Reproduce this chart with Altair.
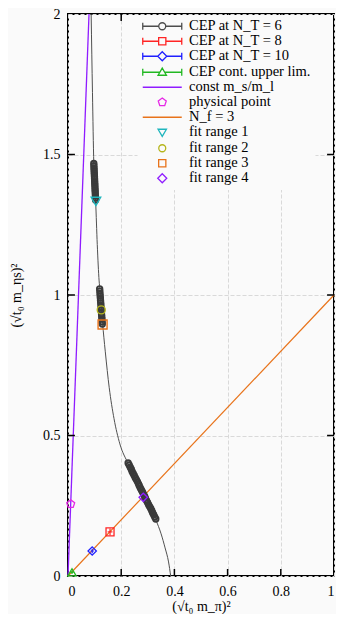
import altair as alt
import pandas as pd

# ---------------- data ----------------
series = ["CEP at N_T = 6", "CEP at N_T = 8", "CEP at N_T = 10", "CEP cont. upper lim.",
          "const m_s/m_l", "physical point", "N_f = 3",
          "fit range 1", "fit range 2", "fit range 3", "fit range 4"]
colors = ["#4d4d4d", "#ff2424", "#1f1fff", "#22b822", "#8f1cff", "#e628e6", "#e8731a",
          "#1fb5bd", "#b5b51c", "#e8731a", "#8f1cff"]
legend_paths = [
    "M-1,-0.6V0.6M-1,0H1.67M2.83,0H5.5M5.5,-0.6V0.6M1.67,0A0.58,0.58 0 1,0 2.83,0A0.58,0.58 0 1,0 1.67,0",
    "M-1,-0.6V0.6M-1,0H1.65M2.85,0H5.5M5.5,-0.6V0.6M1.65,-0.6H2.85V0.6H1.65Z",
    "M-1,-0.6V0.6M-1,0H1.5M3,0H5.5M5.5,-0.6V0.6M2.25,-0.75L3,0L2.25,0.75L1.5,0Z",
    "M-1,-0.6V0.6M-1,0H1.84M2.66,0H5.5M5.5,-0.6V0.6M2.25,-0.7L2.95,0.5H1.55Z",
    "M-1,0H5.5",
    "M2.25,-0.7L2.916,-0.216L2.661,0.566L1.839,0.566L1.584,-0.216Z",
    "M-1,0H5.5",
    "M1.55,-0.5H2.95L2.25,0.7Z",
    "M1.67,0A0.58,0.58 0 1,0 2.83,0A0.58,0.58 0 1,0 1.67,0",
    "M1.65,-0.6H2.85V0.6H1.65Z",
    "M2.25,-0.75L3,0L2.25,0.75L1.5,0Z",
]

# N_T = 6 fitted curve
curve_x = [0.087, 0.092, 0.097, 0.100, 0.104, 0.110, 0.117, 0.120, 0.125, 0.130, 0.140,
           0.155, 0.173, 0.195, 0.226, 0.260, 0.290, 0.330, 0.350, 0.365, 0.378, 0.386]
curve_y = [2.00, 1.72, 1.47, 1.40, 1.33, 1.18, 1.05, 1.02, 0.96, 0.90, 0.80,
           0.67, 0.56, 0.47, 0.40, 0.33, 0.28, 0.20, 0.15, 0.10, 0.05, 0.00]

# N_T = 6 CEP points (three dense clusters)
c1_x = [0.0970, 0.0974, 0.0978, 0.0982, 0.0986, 0.0990, 0.0994, 0.0998, 0.1002,
        0.1006, 0.1010, 0.1014, 0.1018, 0.1022, 0.1026, 0.1030, 0.1034, 0.1038]
c1_y = [1.468, 1.460, 1.452, 1.445, 1.437, 1.430, 1.422, 1.414, 1.406,
        1.398, 1.391, 1.383, 1.375, 1.368, 1.360, 1.352, 1.345, 1.338]
c2_x = [0.1190, 0.1197, 0.1203, 0.1210, 0.1217, 0.1223, 0.1230, 0.1237,
        0.1243, 0.1250, 0.1257, 0.1263, 0.1270, 0.1277, 0.1283, 0.1290]
c2_y = [1.022, 1.014, 1.005, 0.997, 0.989, 0.980, 0.972, 0.964,
        0.955, 0.947, 0.939, 0.930, 0.922, 0.914, 0.905, 0.897]
c3_x = [0.226, 0.230, 0.234, 0.238, 0.241, 0.245, 0.249, 0.253, 0.257, 0.261,
        0.265, 0.268, 0.272, 0.276, 0.280, 0.284, 0.288, 0.291, 0.295, 0.299,
        0.303, 0.307, 0.311, 0.315, 0.318, 0.322, 0.326, 0.330]
c3_y = [0.402, 0.395, 0.387, 0.380, 0.372, 0.365, 0.358, 0.350, 0.343, 0.336,
        0.328, 0.321, 0.313, 0.306, 0.299, 0.291, 0.284, 0.277, 0.269, 0.262,
        0.254, 0.247, 0.240, 0.232, 0.225, 0.218, 0.210, 0.203]

nt8_x, nt8_y, nt8_xerr, nt8_yerr = [0.158], [0.157], [0.009], [0.012]
nt10_x, nt10_y, nt10_xerr, nt10_yerr = [0.091], [0.089], [0.006], [0.008]
ul_x, ul_y, ul_xerr, ul_yerr = [0.015], [0.013], [0.006], [0.006]

ratio_x, ratio_y = [0.0, 0.079], [0.0, 2.0]
nf3_x, nf3_y = [0.0, 1.0], [0.0, 1.0]
phys_x, phys_y = [0.0102], [0.256]

fit_x = [0.105, 0.125, 0.130, 0.283]
fit_y = [1.333, 0.947, 0.895, 0.280]

x_tick_vals = [0.2, 0.4, 0.6, 0.8]
y_tick_vals = [0.5, 1.0, 1.5]
x_tick_len, y_tick_len = 0.025, 0.026

# ---------------- styling ----------------
FONT = "Liberation Serif"
PENTAGON = "M0,-1L0.951,-0.309L0.588,0.809L-0.588,0.809L-0.951,-0.309Z"
fit_shapes = ["triangle-down", "circle", "square", "diamond"]
fit_sizes = [90, 64, 81, 70]
fit_colors = colors[7:]

xaxis = alt.Axis(values=[0, 0.2, 0.4, 0.6, 0.8, 1.0], format=".1~f", grid=True,
                 gridDash=[4, 2], gridColor="#d9d9d9", gridWidth=1, domain=False,
                 ticks=False, tickSize=0, labelFont=FONT, labelFontSize=14,
                 labelColor="black", labelPadding=8, title="(√t₀ m_π)²",
                 titleFont=FONT, titleFontSize=14, titleFontWeight="normal",
                 titleColor="black", titleY=30, titleBaseline="middle")
yaxis = alt.Axis(values=[0, 0.5, 1.0, 1.5, 2.0], format=".1~f", grid=True,
                 gridDash=[4, 2], gridColor="#d9d9d9", gridWidth=1, domain=False,
                 ticks=False, tickSize=0, labelFont=FONT, labelFontSize=14,
                 labelColor="black", labelPadding=8, title="(√t₀ m_ηs)²",
                 titleFont=FONT, titleFontSize=14, titleFontWeight="normal",
                 titleColor="black", titleX=-52, titleY=281, titleBaseline="middle")
xs = alt.Scale(domain=[0, 1], nice=False, zero=False)
ys = alt.Scale(domain=[0, 2], nice=False, zero=False)
X = alt.X("x:Q", scale=xs, axis=xaxis)
Y = alt.Y("y:Q", scale=ys, axis=yaxis)


def df(x, y, **extra):
    d = {"x": x, "y": y}
    d.update(extra)
    return pd.DataFrame(d)


layers = []
# lines
layers.append(alt.Chart(df(ratio_x, ratio_y)).mark_line(color=colors[4], strokeWidth=1.3).encode(x=X, y=Y))
layers.append(alt.Chart(df(nf3_x, nf3_y)).mark_line(color=colors[6], strokeWidth=1.2).encode(x=X, y=Y))
layers.append(alt.Chart(df(curve_x, curve_y)).mark_line(color="#505050", strokeWidth=1,
                                                        interpolate="monotone").encode(x=X, y=Y))
# N_T = 6 clusters
clusters = pd.concat([df(c1_x, c1_y), df(c2_x, c2_y), df(c3_x, c3_y)])
layers.append(alt.Chart(clusters).mark_point(shape="circle", filled=False, color="#3a3a3a",
                                             size=30, strokeWidth=1.9, opacity=1).encode(x=X, y=Y))

# points with error bars
for (px, py, pxe, pye, col, shp, sz) in [
    (nt8_x, nt8_y, nt8_xerr, nt8_yerr, colors[1], "square", 64),
    (nt10_x, nt10_y, nt10_xerr, nt10_yerr, colors[2], "diamond", 70),
    (ul_x, ul_y, ul_xerr, ul_yerr, colors[3], "triangle-up", 70),
]:
    d = df(px, py, xlo=[a - b for a, b in zip(px, pxe)], xhi=[a + b for a, b in zip(px, pxe)],
           ylo=[a - b for a, b in zip(py, pye)], yhi=[a + b for a, b in zip(py, pye)])
    layers.append(alt.Chart(d).mark_rule(color=col, strokeWidth=1.2).encode(
        x=alt.X("xlo:Q", scale=xs, axis=xaxis), x2="xhi:Q", y=Y))
    layers.append(alt.Chart(d).mark_rule(color=col, strokeWidth=1.2).encode(
        x=X, y=alt.Y("ylo:Q", scale=ys, axis=yaxis), y2="yhi:Q"))
    layers.append(alt.Chart(d).mark_point(shape=shp, filled=False, color=col, size=sz,
                                          strokeWidth=1.3, opacity=1).encode(x=X, y=Y))

# physical point
layers.append(alt.Chart(df(phys_x, phys_y)).mark_point(shape=PENTAGON, filled=False, color=colors[5],
                                                       size=70, strokeWidth=1.3, opacity=1).encode(x=X, y=Y))
# fit range markers
for i in range(4):
    layers.append(alt.Chart(df([fit_x[i]], [fit_y[i]])).mark_point(
        shape=fit_shapes[i], filled=False, color=fit_colors[i], size=fit_sizes[i],
        strokeWidth=1.4, opacity=1).encode(x=X, y=Y))

# inward ticks (mirrored on all four sides)
tb = pd.DataFrame({"x": x_tick_vals * 2,
                   "y": [0.0] * 4 + [2.0] * 4,
                   "y2": [x_tick_len] * 4 + [2.0 - x_tick_len] * 4})
lr = pd.DataFrame({"y": y_tick_vals * 2,
                   "x": [0.0] * 3 + [1.0] * 3,
                   "x2": [y_tick_len] * 3 + [1.0 - y_tick_len] * 3})
layers.append(alt.Chart(tb).mark_rule(color="black", strokeWidth=1.5).encode(x=X, y=Y, y2="y2:Q"))
layers.append(alt.Chart(lr).mark_rule(color="black", strokeWidth=1.5).encode(x=X, x2="x2:Q", y=Y))

# legend carrier (no drawn marks)
leg_kw = dict(orient="none", legendX=69.5, legendY=1.0, title=None, padding=4,
              fillColor="#fafafa", direction="vertical", symbolSize=144,
              symbolStrokeWidth=1.3, symbolOpacity=1, labelFont=FONT, labelFontSize=14.5,
              labelColor="black", labelOffset=33, rowPadding=0,
              labelLimit=300)
leg_df = pd.DataFrame({"series": series, "x": [0.5] * len(series), "y": [1.0] * len(series)})
layers.append(alt.Chart(leg_df).transform_filter("false").mark_point(filled=False, opacity=1).encode(
    x=X, y=Y,
    color=alt.Color("series:N", scale=alt.Scale(domain=series, range=colors), legend=alt.Legend(**leg_kw)),
    shape=alt.Shape("series:N", scale=alt.Scale(domain=series, range=legend_paths), legend=alt.Legend(**leg_kw)),
))

chart = alt.layer(*layers).properties(
    width=266, height=562,
    padding={"left": 60, "top": 6, "right": 2, "bottom": 38},
    autosize=alt.AutoSizeParams(type="none"),
    background="#fafafa",
).configure_view(stroke="black", strokeWidth=2)

chart.save("out.html", embed_options={"renderer": "svg", "actions": False})
